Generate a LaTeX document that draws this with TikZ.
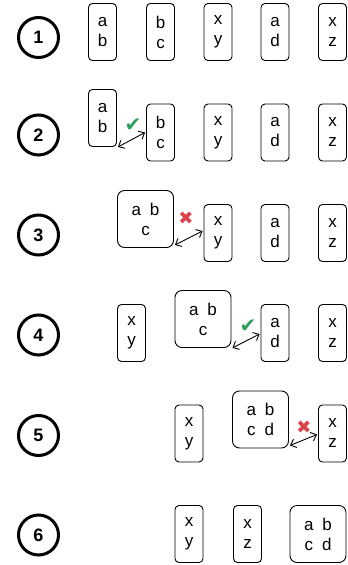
\documentclass[tikz,border=0pt]{standalone}
\usepackage{fontspec}
\setmainfont{Liberation Sans}
\newfontfamily\symfont{DejaVu Sans}
\usetikzlibrary{arrows.meta}
\definecolor{okgreen}{HTML}{2E9E5B}
\definecolor{badred}{HTML}{D9434A}
\tikzset{
  nb/.style={draw, line width=0.9pt, rounded corners=4pt, minimum width=28pt, minimum height=57pt, inner sep=0pt, align=center, font=\fontsize{17}{20}\selectfont},
  bb/.style={nb, minimum width=56pt, rounded corners=7pt},
  num/.style={draw, circle, line width=3pt, minimum size=40pt, inner sep=0pt, font=\fontsize{18}{20}\selectfont\bfseries},
  swap/.style={{Straight Barb[length=5pt,width=9pt]}-{Straight Barb[length=5pt,width=9pt]}, line width=0.9pt},
  okmark/.style={text=okgreen, font=\symfont\fontsize{20}{20}\selectfont, inner sep=0pt},
  badmark/.style={text=badred, font=\symfont\fontsize{18}{18}\selectfont, inner sep=0pt},
}
\newcommand{\gap}{\hspace{9pt}}
\begin{document}
\begin{tikzpicture}[x=1pt, y=-1pt]
\useasboundingbox (0,0) rectangle (348,565);
% row 1
\node[num] (n1) at (38.5,37.5) {1};
\node[nb] (r1a) at (102.5,32) {a\\b};
\node[nb] (r1b) at (160.5,32) {b\\c};
\node[nb] (r1c) at (218,32) {x\\y};
\node[nb] (r1d) at (275,32) {a\\d};
\node[nb] (r1e) at (332.5,32) {x\\z};
% row 2
\node[num] (n2) at (38.5,135) {2};
\node[nb] (r2a) at (102.5,118) {a\\b};
\node[nb] (r2b) at (160.5,132.5) {b\\c};
\node[nb] (r2c) at (218,132.5) {x\\y};
\node[nb] (r2d) at (275,132.5) {a\\d};
\node[nb] (r2e) at (332.5,132.5) {x\\z};
\draw[swap] ([shift={(1pt,0pt)}]r2a.south east) -- ([shift={(-1pt,0pt)}]r2b.west);
\node[okmark] (c2) at (133,125) {✔};
% row 3
\node[num] (n3) at (38.5,235) {3};
\node[bb] (r3a) at (145.5,219) {a\gap b\\c};
\node[nb] (r3c) at (218,233) {x\\y};
\node[nb] (r3d) at (275,233) {a\\d};
\node[nb] (r3e) at (332.5,233) {x\\z};
\draw[swap] ([shift={(1pt,3pt)}]r3a.south east) -- ([shift={(-1pt,2pt)}]r3c.west);
\node[badmark] (x3) at (186,218) {✖};
% row 4
\node[num] (n4) at (38.5,335) {4};
\node[nb] (r4c) at (131.5,333) {x\\y};
\node[bb] (r4a) at (203,319) {a\gap b\\c};
\node[nb] (r4d) at (275,333) {a\\d};
\node[nb] (r4e) at (332.5,333) {x\\z};
\draw[swap] ([shift={(1pt,0pt)}]r4a.south east) -- ([shift={(-1pt,-1pt)}]r4d.west);
\node[okmark] (c4) at (248,326) {✔};
% row 5
\node[num] (n5) at (38.5,435.5) {5};
\node[nb] (r5c) at (189,433.5) {x\\y};
\node[bb] (r5a) at (260.5,419.5) {a\gap b\\c\gap d};
\node[nb] (r5e) at (332.5,433.5) {x\\z};
\draw[swap] ([shift={(1pt,3pt)}]r5a.south east) -- ([shift={(-1pt,-1pt)}]r5e.west);
\node[badmark] (x5) at (304,427) {✖};
% row 6
\node[num] (n6) at (38.5,535) {6};
\node[nb] (r6c) at (189,534) {x\\y};
\node[nb] (r6e) at (247.5,534) {x\\z};
\node[bb] (r6a) at (318,534) {a\gap b\\c\gap d};
\end{tikzpicture}
\end{document}
